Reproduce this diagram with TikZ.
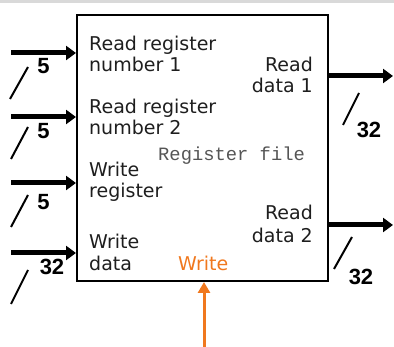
\documentclass[tikz,border=0pt]{standalone}
\usepackage{fontspec}
\setmainfont{DejaVu Sans}
\newfontfamily\numfont{Liberation Sans}
\newfontfamily\monofont{Liberation Mono}
\usetikzlibrary{arrows.meta}
\definecolor{wrorange}{RGB}{240,120,30}
\definecolor{txt}{RGB}{30,30,30}
\definecolor{mono}{RGB}{85,85,85}
\begin{document}
\begin{tikzpicture}[x=1pt,y=-1pt,
  lbl/.style={inner sep=0pt, text=txt, font=\fontsize{19}{21}\selectfont},
  num/.style={inner sep=0pt, font=\numfont\bfseries\fontsize{22}{22}\selectfont},
  bus/.style={line width=5pt, -{Triangle[length=10pt,width=14pt]}},
  slash/.style={line width=2pt},
  ctrl/.style={line width=3pt, wrorange, -{Triangle[length=11pt,width=12pt]}}]
\useasboundingbox (0,0) rectangle (394,347);
\fill[gray!30] (0,0) rectangle (394,3);
\node[draw, line width=2pt, minimum width=251pt, minimum height=266pt, anchor=north west, inner sep=0pt] (rf) at (76,14) {};
% inputs
\coordinate (i1) at (11,53);
\coordinate (i2) at (11,117);
\coordinate (i3) at (11,183);
\coordinate (i4) at (11,253);
\foreach \c in {i1,i2,i3,i4} \draw[bus] (\c) -- (\c -| rf.west);
\draw[slash] (10,99) -- (28,67);
\draw[slash] (11,159) -- (28,127);
\draw[slash] (11,227) -- (28,195);
\draw[slash] (11,304) -- (28,270);
\node[num] (n1) at (43.5,66) {5};
\node[num] (n2) at (43.5,131) {5};
\node[num] (n3) at (43.5,202) {5};
\node[num] (n4) at (52,267) {32};
% outputs
\coordinate (o1) at (393,76);
\coordinate (o2) at (393,225);
\draw[bus] (o1 -| rf.east) -- (o1);
\draw[bus] (o2 -| rf.east) -- (o2);
\draw[slash] (343,125) -- (359,93);
\draw[slash] (334,269) -- (352,237);
\node[num] (n5) at (369,130) {32};
\node[num] (n6) at (361,277) {32};
% write control
\coordinate (w) at (204,347);
\draw[ctrl] (w) -- (w |- rf.south);
% texts
\node[lbl, anchor=base west] (t1a) at (89,51) {Read register};
\node[lbl, anchor=base west] (t1b) at (89,72) {number 1};
\node[lbl, anchor=base west] (t2a) at (89,114) {Read register};
\node[lbl, anchor=base west] (t2b) at (89,135) {number 2};
\node[lbl, anchor=base west] (t3a) at (89,177) {Write};
\node[lbl, anchor=base west] (t3b) at (89,198) {register};
\node[lbl, anchor=base west] (t4a) at (89,249) {Write};
\node[lbl, anchor=base west] (t4b) at (89,271) {data};
\node[lbl, anchor=base west, text=wrorange] (tw) at (178,271) {Write};
\node[lbl, anchor=base east] (r1a) at (313,72) {Read};
\node[lbl, anchor=base east] (r1b) at (313,93) {data 1};
\node[lbl, anchor=base east] (r2a) at (313,220) {Read};
\node[lbl, anchor=base east] (r2b) at (313,243) {data 2};
\node[inner sep=0pt, anchor=base west, text=mono, font=\monofont\fontsize{18.8}{18.8}\selectfont] (rfl) at (158,161) {Register file};
\end{tikzpicture}
\end{document}
